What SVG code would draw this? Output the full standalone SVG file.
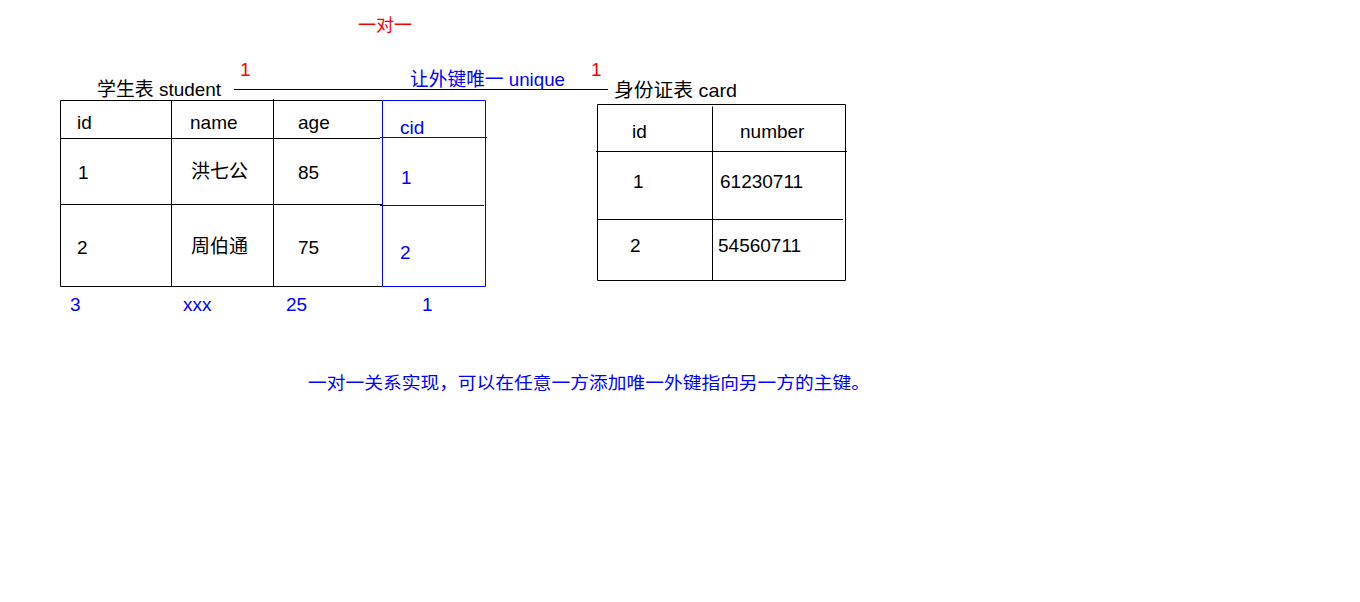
<svg xmlns="http://www.w3.org/2000/svg" width="1360" height="602" viewBox="0 0 1360 602">
<style>
text{font-family:"Liberation Sans","Noto Sans CJK SC",sans-serif;font-size:19px;fill:#000}
.b{fill:#0000ff}
.r{fill:#ff0000}
.k{stroke:#000;stroke-width:1;fill:none}
.bl{stroke:#0000ff;stroke-width:1;fill:none}
</style>
<rect width="1360" height="602" fill="#fff"/>
<text class="r" x="358" y="31" textLength="54" lengthAdjust="spacingAndGlyphs" style="font-size:17px">一对一</text>
<g id="student">
<text x="97" y="96" textLength="124" lengthAdjust="spacingAndGlyphs">学生表 student</text>
<path class="k" d="M60.5 100.5H382.5M60.5 100.5V286.5H382.5M171.5 100.5V286.5M273.5 99V286.5M60.5 138.5H380M60.5 204.5H382"/>
<path class="bl" d="M382.5 100.5H485.5V286.5H382.5V100.5M380 137.5H487M380 205.5H484"/>
<text x="77" y="129">id</text>
<text x="190" y="129">name</text>
<text x="298" y="129">age</text>
<text class="b" x="400" y="134">cid</text>
<text x="78" y="179">1</text>
<text x="191" y="178">洪七公</text>
<text x="298" y="179">85</text>
<text class="b" x="401" y="184">1</text>
<text x="77" y="254">2</text>
<text x="191" y="253">周伯通</text>
<text x="298" y="254">75</text>
<text class="b" x="400" y="259">2</text>
<text class="b" x="70" y="311">3</text>
<text class="b" x="183" y="311">xxx</text>
<text class="b" x="286" y="311">25</text>
<text class="b" x="422" y="311">1</text>
</g>
<g id="connectors">
<path class="k" d="M234 89.5H608"/>
<text class="r" x="240" y="76">1</text>
<text class="r" x="591" y="76">1</text>
<text class="b" x="410" y="86" textLength="155" lengthAdjust="spacingAndGlyphs">让外键唯一 unique</text>
</g>
<g id="card">
<text x="614" y="97" textLength="123" lengthAdjust="spacingAndGlyphs">身份证表  card</text>
<path class="k" d="M597.5 104.5H845.5V280.5H597.5V104.5M712.5 106.5V280.5M596 151.5H847M597.5 219.5H843"/>
<text x="632" y="138">id</text>
<text x="740" y="138">number</text>
<text x="633" y="188">1</text>
<text x="720" y="188">61230711</text>
<text x="630" y="252">2</text>
<text x="718" y="252">54560711</text>
</g>
<text class="b" x="308" y="389" textLength="562" lengthAdjust="spacingAndGlyphs" style="font-size:17px">一对一关系实现，可以在任意一方添加唯一外键指向另一方的主键。</text>
</svg>
